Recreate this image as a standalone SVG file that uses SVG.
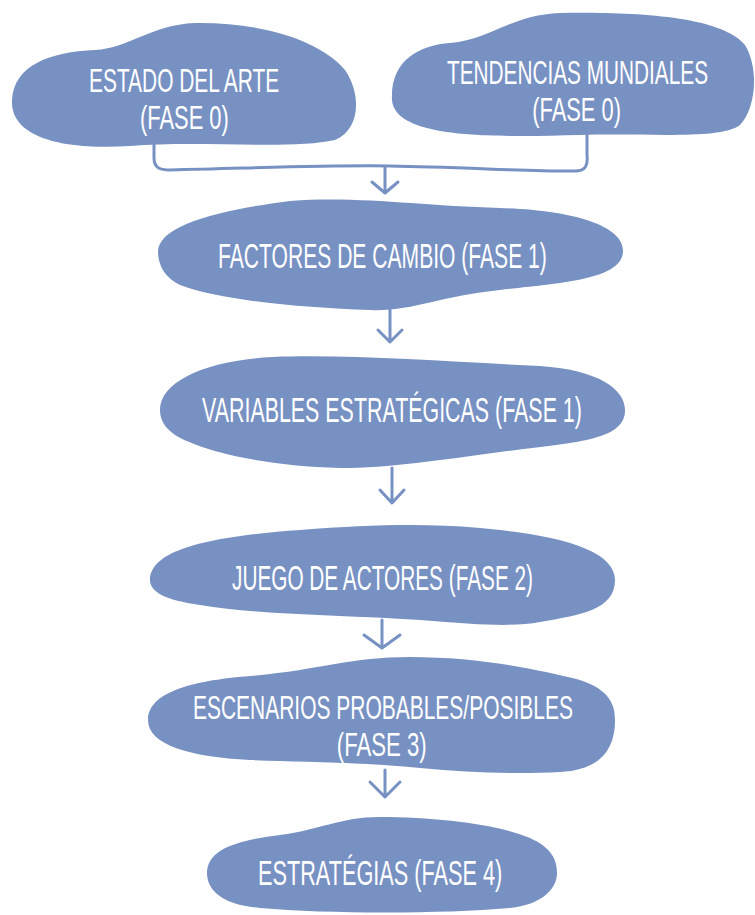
<svg xmlns="http://www.w3.org/2000/svg" width="755" height="915" viewBox="0 0 755 915">
<style>
.blob{fill:#7891c3;}
.lbl{fill:#ffffff;font-family:"Liberation Sans",Arial,sans-serif;font-size:36px;}
.lbl2{fill:#ffffff;font-family:"Liberation Sans",Arial,sans-serif;font-size:33px;}
.con{fill:none;stroke:#7891c3;stroke-width:3;stroke-linecap:round;stroke-linejoin:round;}
</style>
<rect width="755" height="915" fill="#ffffff"/>
<g id="connectors">
<path class="con" d="M154 145 L154 158 C154 168 160 170 170 170 C260 168 330 165 390 166 C460 167 540 172 575 171 C586 171 588 165 587 155 L587 133"/>
<path class="con" d="M385 167 L385 192 M372 182 L385 193 L398 182"/>
<path class="con" d="M390 310 L390 341 M378 330 L390 342 L402 330"/>
<path class="con" d="M392 468 L392 502 M380 490 L392 503 L404 490"/>
<path class="con" d="M382 620 L382 647 M364 635 L382 648 L400 635"/>
<path class="con" d="M385 770 L385 796 M370 782 L385 797 L400 782"/>
</g>
<g id="estado">
<path class="blob" d="M12 100 C14 65 50 52 95 50 C130 48 150 25 195 23 C260 22 320 40 345 70 C362 95 360 130 335 140 C290 150 200 140 130 146 C70 150 10 140 12 100 Z"/>
<text class="lbl2" transform="translate(89,92) scale(0.58,1)"><tspan x="0" y="0" textLength="328" lengthAdjust="spacingAndGlyphs">ESTADO DEL ARTE</tspan><tspan x="88" y="37" textLength="153" lengthAdjust="spacingAndGlyphs">(FASE 0)</tspan></text>
</g>
<g id="tendencias">
<path class="blob" d="M392 100 C390 60 420 45 450 43 C490 40 510 15 560 13 C630 12 720 15 745 45 C760 70 755 110 740 125 C720 140 650 133 580 135 C500 137 395 140 392 100 Z"/>
<text class="lbl2" transform="translate(447,84) scale(0.58,1)"><tspan x="0" y="0" textLength="450" lengthAdjust="spacingAndGlyphs">TENDENCIAS MUNDIALES</tspan><tspan x="147" y="37" textLength="153" lengthAdjust="spacingAndGlyphs">(FASE 0)</tspan></text>
</g>
<g id="factores">
<path class="blob" d="M158 252 C158 225 220 210 290 201 C360 196 420 206 500 208 C570 210 625 225 623 252 C621 280 560 283 500 290 C440 296 410 312 370 310 C300 308 220 300 180 285 C165 278 158 265 158 252 Z"/>
<text class="lbl" transform="translate(218,268) scale(0.58,1)" textLength="567" lengthAdjust="spacingAndGlyphs">FACTORES DE CAMBIO (FASE 1)</text>
</g>
<g id="variables">
<path class="blob" d="M160 410 C160 380 210 360 273 357 C350 354 450 362 540 366 C600 370 625 390 625 410 C625 440 580 442 500 452 C440 460 390 468 340 468 C260 466 200 450 175 435 C165 428 160 420 160 410 Z"/>
<text class="lbl" transform="translate(202,422) scale(0.58,1)" textLength="655" lengthAdjust="spacingAndGlyphs">VARIABLES ESTRATÉGICAS (FASE 1)</text>
</g>
<g id="juego">
<path class="blob" d="M150 580 C150 545 230 535 300 530 C370 525 420 523 480 528 C560 535 615 550 615 580 C615 610 580 615 540 622 C515 627 480 625 420 620 C340 615 260 615 200 605 C165 600 150 592 150 580 Z"/>
<text class="lbl" transform="translate(232,590) scale(0.58,1)" textLength="519" lengthAdjust="spacingAndGlyphs">JUEGO DE ACTORES (FASE 2)</text>
</g>
<g id="escenarios">
<path class="blob" d="M148 720 C148 690 200 680 250 676 C320 670 350 657 410 657 C480 657 540 670 580 680 C610 690 615 705 615 720 C615 750 600 770 560 772 C520 774 470 773 420 768 C360 762 300 762 250 760 C190 757 148 745 148 720 Z"/>
<text class="lbl2" transform="translate(193,719) scale(0.58,1)"><tspan x="0" y="0" textLength="655" lengthAdjust="spacingAndGlyphs">ESCENARIOS PROBABLES/POSIBLES</tspan><tspan x="248" y="37" textLength="155" lengthAdjust="spacingAndGlyphs">(FASE 3)</tspan></text>
</g>
<g id="estrategias">
<path class="blob" d="M207 873 C207 848 240 840 280 835 C320 830 340 817 380 817 C440 817 500 825 530 838 C552 848 557 860 557 873 C557 890 540 905 510 908 C440 914 330 914 260 908 C225 905 207 892 207 873 Z"/>
<text class="lbl" transform="translate(258,885) scale(0.58,1)" textLength="421" lengthAdjust="spacingAndGlyphs">ESTRATÉGIAS (FASE 4)</text>
</g>
</svg>
